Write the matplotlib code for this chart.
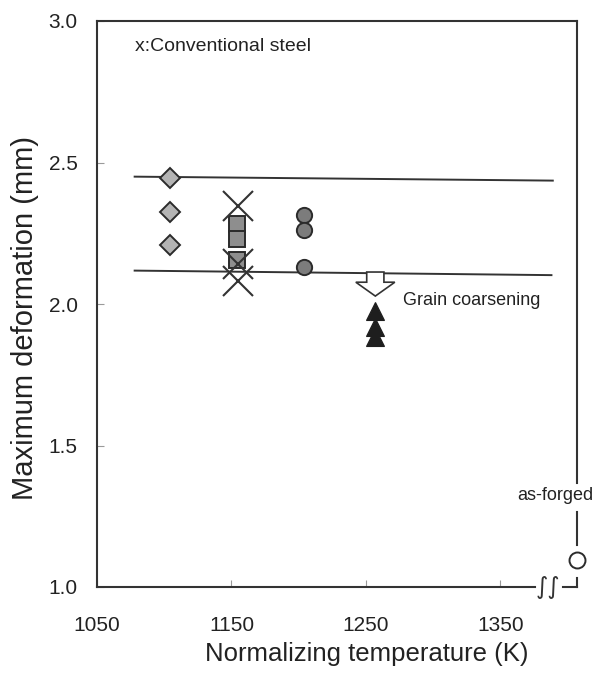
import matplotlib
matplotlib.use("Agg")
import matplotlib.pyplot as plt
from matplotlib.patches import Polygon
from matplotlib.lines import Line2D

plt.rcParams['font.family'] = ['Liberation Sans', 'DejaVu Sans']

# --- data -----------------------------------------------------------------
diamond_T = [1104, 1104, 1104]
diamond_d = [2.444, 2.324, 2.210]

square_T = [1154, 1154, 1154]
square_d = [2.283, 2.230, 2.157]

circle_T = [1204, 1204, 1204]
circle_d = [2.316, 2.263, 2.130]

triangle_T = [1257, 1257, 1257]
triangle_d = [1.977, 1.917, 1.885]

conv_T = [1155, 1155, 1155]
conv_d = [2.346, 2.143, 2.083]

asforged_T = [1407]
asforged_d = [1.095]

upper_band_T = [1078, 1389]
upper_band_d = [2.450, 2.436]
lower_band_T = [1078, 1388]
lower_band_d = [2.118, 2.102]

x_ticks = [1050, 1150, 1250, 1350]
y_ticks = [1.0, 1.5, 2.0, 2.5, 3.0]
y_tick_labels = ["1.0", "1.5", "2.0", "2.5", "3.0"]

# --- figure ---------------------------------------------------------------
fig = plt.figure(figsize=(5.93, 6.75), dpi=100)
ax = fig.add_axes([97 / 593, 1 - 587 / 675, 480 / 593, 566 / 675])
ax.set_xlim(1050, 1407)
ax.set_ylim(1.0, 3.0)

dark = '#333333'
edge = '#2b2b2b'

# band lines
ax.plot(upper_band_T, upper_band_d, color=dark, lw=1.4, zorder=2)
ax.plot(lower_band_T, lower_band_d, color=dark, lw=1.4, zorder=2)

# data markers
ax.plot(diamond_T, diamond_d, ls='none', marker='D', ms=10.0,
        mfc='#b4b4b4', mec=edge, mew=1.4, zorder=3)
ax.plot(square_T, square_d, ls='none', marker='s', ms=11.0,
        mfc='#8e8e8e', mec=edge, mew=1.4, zorder=3)
ax.plot(circle_T, circle_d, ls='none', marker='o', ms=11.0,
        mfc='#7c7c7c', mec=edge, mew=1.4, zorder=3)
ax.plot(triangle_T, triangle_d, ls='none', marker='^', ms=13.0,
        mfc='#1e1e1e', mec='#1e1e1e', mew=0.8, zorder=3)
ax.plot(conv_T, conv_d, ls='none', marker='x', ms=22.0,
        mec=dark, mew=1.5, zorder=4)
ax.plot(asforged_T, asforged_d, ls='none', marker='o', ms=11.5,
        mfc='white', mec=edge, mew=1.4, zorder=5, clip_on=False)

# hollow arrow marking grain coarsening
arrow_T = 1257
arrow_top = 2.113
arrow_head_start = 2.077
arrow_tip = 2.028
shaft_half = 6.4
head_half = 14.5
arrow_pts = [
    (arrow_T - shaft_half, arrow_top), (arrow_T + shaft_half, arrow_top),
    (arrow_T + shaft_half, arrow_head_start), (arrow_T + head_half, arrow_head_start),
    (arrow_T, arrow_tip), (arrow_T - head_half, arrow_head_start),
    (arrow_T - shaft_half, arrow_head_start),
]
ax.add_patch(Polygon(arrow_pts, closed=True, facecolor='white',
                     edgecolor=dark, lw=1.2, zorder=4))

# annotations
ax.text(1277.5, 2.012, "Grain coarsening", fontsize=13, ha='left',
        va='center', color='#222222')
ax.text(1078, 2.91, "x:Conventional steel", fontsize=14, ha='left',
        va='center', color='#222222')
ax.text(1390.5, 1.325, "as-forged", fontsize=13, ha='center',
        va='center', color='#222222')

# axes frame: left and top spines, broken bottom and right edges
for side in ('left', 'top', 'bottom'):
    ax.spines[side].set_color(dark)
    ax.spines[side].set_linewidth(1.5)
ax.spines['right'].set_visible(False)
ax.spines['bottom'].set_bounds(1050, 1375.6)

frame_kw = dict(color=dark, lw=1.5, transform=ax.transAxes, clip_on=False)
for y0, y1 in [(1.0, 0.184), (0.132, 0.075), (0.016, 0.0)]:
    ax.add_line(Line2D([1.0, 1.0], [y0, y1], **frame_kw))
ax.add_line(Line2D([1396.5, 1407], [1.0, 1.0], color=dark, lw=1.5,
                   clip_on=False))
ax.text(1385.2, 1.0, "\u222b\u222b", fontsize=17, ha='center', va='center',
        family='DejaVu Sans', color=dark, clip_on=False)

# ticks
ax.set_xticks(x_ticks)
ax.set_yticks(y_ticks)
ax.set_yticklabels(y_tick_labels)
ax.tick_params(axis='both', direction='in', length=5, width=0.8,
               color='#9a9a9a', labelsize=15, labelcolor='#222222')
ax.tick_params(axis='x', pad=21)
ax.tick_params(axis='y', pad=14)

ax.set_xlabel("Normalizing temperature (K)", fontsize=18.5, color='#222222')
ax.xaxis.set_label_coords(0.5625, -0.097)
ax.set_ylabel("Maximum deformation (mm)", fontsize=21, color='#222222')
ax.yaxis.set_label_coords(-0.12, 0.475)

fig.savefig("out.png", dpi=100)
